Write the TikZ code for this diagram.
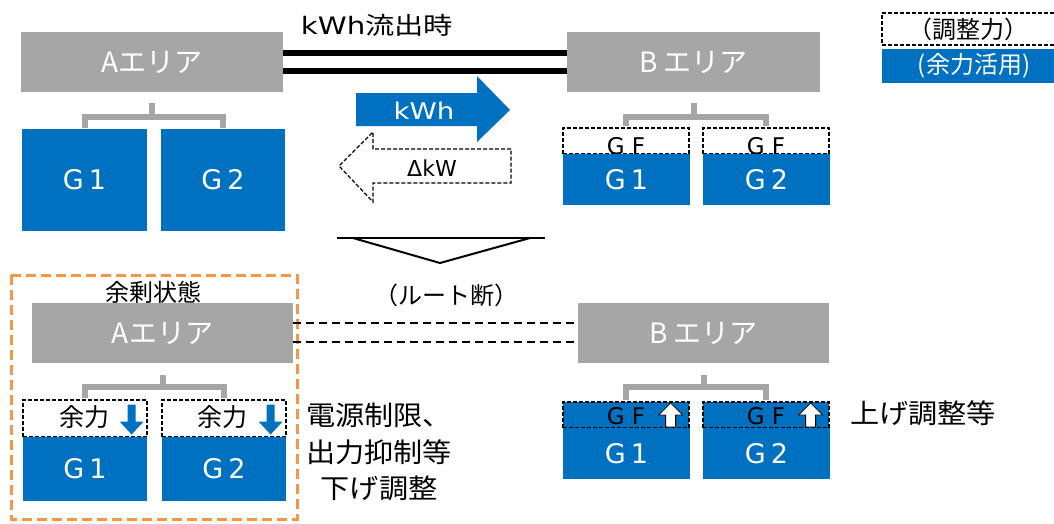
\documentclass[tikz,border=0pt]{standalone}
\usepackage{fontspec}
\setmainfont{Noto Sans CJK JP}
\newfontfamily\lat{DejaVu Sans}
\definecolor{blueA}{HTML}{0070C0}
\definecolor{grayA}{HTML}{A6A6A6}
\definecolor{orangeA}{HTML}{F79646}
\newcommand\hstretch[2]{\scalebox{#1}[1]{#2}}
\tikzset{
  x=1pt, y=-1pt,
  area/.style={fill=grayA, text=white, inner sep=0pt, font=\fontsize{28}{30}\selectfont},
  gbox/.style={fill=blueA, text=white, inner sep=0pt, font=\lat\fontsize{27}{30}\selectfont},
  gfbox/.style={draw=black, dash pattern=on 4pt off 2pt, line width=1.2pt, inner sep=0pt},
  bracket/.style={draw=grayA, line width=6pt, line join=miter},
  lbl/.style={inner sep=0pt, text=black},
  gflbl/.style={lbl, font=\lat\fontsize{23}{24}\selectfont, anchor=base},
  darr/.pic={\fill[blueA] (-4,-15) -- (4,-15) -- (4,2) -- (12,2) -- (0,15) -- (-12,2) -- (-4,2) -- cycle;},
  uarr/.pic={\filldraw[fill=white, draw=black, line width=0.8pt] (0,-12) -- (12,0) -- (5,0) -- (5,12) -- (-5,12) -- (-5,0) -- (-12,0) -- cycle;},
}
\begin{document}
\begin{tikzpicture}
\useasboundingbox (0,0) rectangle (1054,523);
\clip (0,0) rectangle (1054,523);

% ---------- top ----------
\node[lbl, font=\fontsize{24}{26}\selectfont] (title) at (377,25) {\hstretch{1.22}{{\lat kWh}流出時}};
\node[area, minimum width=262pt, minimum height=60pt] (A1) at (152,62) {Aエリア};
\node[area, minimum width=253pt, minimum height=60pt] (B1) at (693.5,62) {B エリア};
\draw[line width=5.5pt] ([yshift=9pt]A1.east) -- ([yshift=9pt]B1.west);
\draw[line width=5.5pt] ([yshift=-9pt]A1.east) -- ([yshift=-9pt]B1.west);

\node[gbox, minimum width=125pt, minimum height=102pt] (G1a) at (84.5,180) {G\hspace{5pt}1};
\node[gbox, minimum width=124pt, minimum height=102pt] (G2a) at (223,180) {G\hspace{5pt}2};
\path (A1.south) ++(0,25) coordinate (jA);
\draw[bracket] (A1.south) ++(0,11) -- (jA);
\draw[bracket] ([yshift=1pt]G1a.north) |- (jA) -| ([yshift=1pt]G2a.north);

\node[gfbox, fill=white, minimum width=126pt, minimum height=26pt] (GFb1) at (626,141) {};
\node[gfbox, fill=white, minimum width=126pt, minimum height=26pt] (GFb2) at (766,141) {};
\node[gflbl] at ([yshift=0.5pt]GFb1.south) {G F};
\node[gflbl] at ([yshift=0.5pt]GFb2.south) {G F};
\node[gbox, minimum width=127pt, minimum height=51pt] (G1b) at (626.5,179.5) {G\hspace{5pt}1};
\node[gbox, minimum width=127pt, minimum height=51pt] (G2b) at (766.5,179.5) {G\hspace{5pt}2};
\path (B1.south) ++(0,25) coordinate (jB);
\draw[bracket] (B1.south) ++(0,11) -- (jB);
\draw[bracket] ([yshift=1pt]GFb1.north) |- (jB) -| ([yshift=1pt]GFb2.north);

% kWh arrow
\fill[blueA] (356,93) -- (477,93) -- (477,76) -- (510,110) -- (477,142) -- (477,126) -- (356,126) -- cycle;
\node[lbl, text=white, font=\lat\fontsize{23}{25}\selectfont] (kwh) at (424,111) {\hstretch{1.2}{kWh}};
% dkW arrow
\filldraw[fill=white, draw=black, dash pattern=on 4pt off 2pt, line width=1.2pt]
  (511,149) -- (373,149) -- (373,132) -- (339,166) -- (373,202) -- (373,183) -- (511,183) -- cycle;
\node[lbl, font=\lat\fontsize{22}{24}\selectfont] (dkw) at (432,168) {ΔkW};

% legend
\node[gfbox, fill=white, minimum width=178pt, minimum height=32pt] (leg1) at (971,29) {};
\node[lbl, font=\fontsize{24}{26}\selectfont] at (968,29) {（調整力）};
\node[fill=blueA, inner sep=0pt, minimum width=178pt, minimum height=34pt] (leg2) at (971,66) {};
\node[lbl, text=white, font=\fontsize{24}{26}\selectfont] at (974,66) {(余力活用)};

% ---------- middle ----------
\coordinate (tl) at (337,238);
\coordinate (tr) at (545,238);
\coordinate (tip) at (440,263);
\draw[line width=2pt] (tl) -- (tr);
\draw[line width=2pt, line join=miter] (353,238) -- (tip) -- (530,238);
\node[lbl, font=\fontsize{24}{26}\selectfont] (cut) at (446,295) {（ルート断）};

% ---------- bottom ----------
\draw[orangeA, line width=3pt, dash pattern=on 10pt off 5pt] (11,275) rectangle (297,519);
\node[lbl, font=\fontsize{24}{26}\selectfont] (surplus) at (153,292) {余剰状態};
\node[area, minimum width=261pt, minimum height=60pt] (A2) at (162.5,333) {Aエリア};
\node[area, minimum width=251pt, minimum height=60pt] (B2) at (703.5,333) {B エリア};
\draw[line width=2pt, dash pattern=on 8pt off 5pt] ([yshift=10pt]A2.east) -- ([yshift=10pt]B2.west);
\draw[line width=2pt, dash pattern=on 8pt off 5pt] ([yshift=-9pt]A2.east) -- ([yshift=-9pt]B2.west);

\node[gfbox, fill=white, minimum width=124pt, minimum height=37pt] (Y1) at (85,418.5) {};
\node[gfbox, fill=white, minimum width=124pt, minimum height=37pt] (Y2) at (224,418.5) {};
\node[gbox, minimum width=124pt, minimum height=64pt] (G1c) at (85,469) {G\hspace{5pt}1};
\node[gbox, minimum width=124pt, minimum height=64pt] (G2c) at (224,469) {G\hspace{5pt}2};
\node[lbl, font=\fontsize{25}{26}\selectfont] at ([xshift=-1pt,yshift=1pt]Y1.center) {余力};
\node[lbl, font=\fontsize{25}{26}\selectfont] at ([xshift=-2pt,yshift=1pt]Y2.center) {余力};
\pic at ([xshift=-16pt,yshift=-1pt]Y1.east) {darr};
\pic at ([xshift=-16pt,yshift=-1pt]Y2.east) {darr};
\path (A2.south) ++(0,24) coordinate (jA2);
\draw[bracket] (A2.south) ++(0,12) -- (jA2);
\draw[bracket] ([yshift=1pt]Y1.north) |- (jA2) -| ([yshift=1pt]Y2.north);
\node[lbl, align=center, font=\fontsize{27}{36.5}\selectfont] (down) at (379,452) {\hstretch{1.08}{電源制限、}\\\hstretch{1.08}{出力抑制等}\\\hstretch{1.08}{下げ調整}};

\node[gfbox, fill=blueA, minimum width=126pt, minimum height=26pt] (GF1d) at (626,415) {};
\node[gfbox, fill=blueA, minimum width=126pt, minimum height=26pt] (GF2d) at (766,415) {};
\node[gbox, minimum width=127pt, minimum height=51pt] (G1d) at (626.5,453.5) {G\hspace{5pt}1};
\node[gbox, minimum width=127pt, minimum height=51pt] (G2d) at (766.5,453.5) {G\hspace{5pt}2};
\node[gflbl] at ([yshift=4pt]GF1d.south) {G F};
\node[gflbl] at ([yshift=4pt]GF2d.south) {G F};
\pic at ([xshift=-19pt]GF1d.east) {uarr};
\pic at ([xshift=-19pt]GF2d.east) {uarr};
\path (B2.south) ++(0,24) coordinate (jB2);
\draw[bracket] (B2.south) ++(0,12) -- (jB2);
\draw[bracket] ([yshift=1pt]GF1d.north) |- (jB2) -| ([yshift=1pt]GF2d.north);
\node[lbl, font=\fontsize{27}{28}\selectfont] (up) at (923,413) {\hstretch{1.08}{上げ調整等}};
\end{tikzpicture}
\end{document}
